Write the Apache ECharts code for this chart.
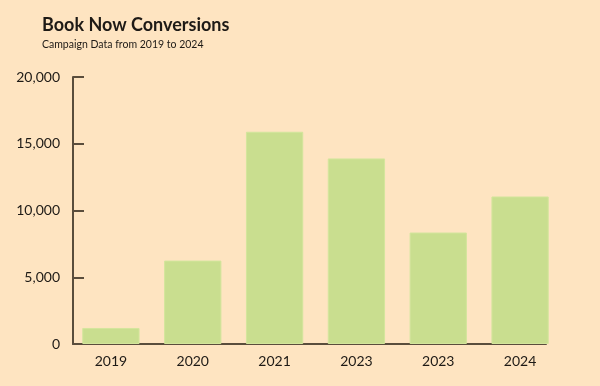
<!DOCTYPE html>
<html>
<head>
<meta charset="utf-8">
<script src="https://cdn.jsdelivr.net/npm/echarts@6/dist/echarts.min.js"></script>
<style>
html,body{margin:0;padding:0;background:#fee4c1;}
#c{width:600px;height:386px;}
</style>
</head>
<body>
<div id="c"></div>
<script>
var categories = ['2019', '2020', '2021', '2023', '2023', '2024'];
var conversions = [1200, 6250, 15900, 13900, 8350, 11050];
var yTicks = [0, 5000, 10000, 15000, 20000];
var titleText = 'Book Now Conversions';
var subtitleText = 'Campaign Data from 2019 to 2024';

var font = 'Lato';
var ink = '#1e1a16';
var axisColor = '#5a4d3c';
var chart = echarts.init(document.getElementById('c'), null, {renderer: 'canvas'});
chart.setOption({
  backgroundColor: '#fee4c1',
  animation: false,
  title: {
    text: titleText,
    subtext: subtitleText,
    left: 37,
    top: 11,
    itemGap: 5,
    textStyle: {fontFamily: font, fontWeight: 'bold', fontSize: 18, color: ink},
    subtextStyle: {fontFamily: font, fontSize: 10.5, color: ink}
  },
  grid: [
    {left: 70, right: 39, top: 77, bottom: 42, containLabel: false},
    {left: 73, right: 54, top: 77, bottom: 42, containLabel: false}
  ],
  xAxis: [{
    type: 'category',
    gridIndex: 0,
    data: categories,
    axisLine: {show: false},
    axisTick: {show: false},
    axisLabel: {fontFamily: font, fontSize: 14, color: ink, margin: 10}
  }, {
    type: 'value',
    gridIndex: 1,
    min: 0, max: 1,
    axisLine: {show: true, onZero: false, lineStyle: {color: axisColor, width: 2}},
    axisTick: {show: false},
    axisLabel: {show: false},
    splitLine: {show: false}
  }],
  yAxis: [{
    type: 'value',
    gridIndex: 0,
    offset: -3,
    min: yTicks[0],
    max: yTicks[yTicks.length - 1],
    interval: yTicks[1] - yTicks[0],
    axisLine: {show: true, lineStyle: {color: axisColor, width: 2}},
    axisTick: {show: true, inside: true, length: 11, lineStyle: {color: axisColor, width: 2}},
    splitLine: {show: false},
    axisLabel: {
      fontFamily: font, fontSize: 14, color: ink, margin: 13,
      formatter: function (v) { return v.toLocaleString('en-US'); }
    }
  }, {
    type: 'value',
    gridIndex: 1,
    show: false,
    min: 0, max: 1
  }],
  series: [{
    type: 'bar',
    xAxisIndex: 0,
    yAxisIndex: 0,
    data: conversions,
    barWidth: '70%',
    itemStyle: {color: '#c9de8f', borderColor: '#d3e59c', borderWidth: 1}
  }]
});
</script>
</body>
</html>
